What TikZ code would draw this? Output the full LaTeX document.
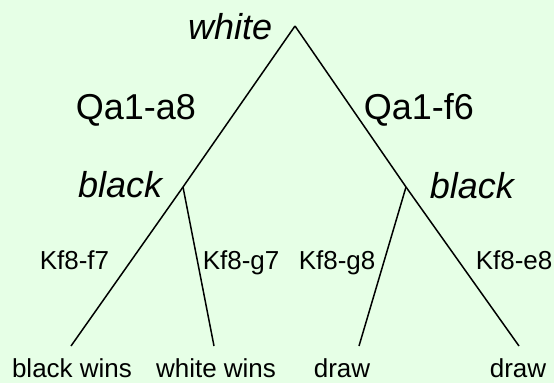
\documentclass[tikz,border=0pt]{standalone}
\usepackage{fontspec}
\setmainfont{Liberation Sans}
\definecolor{bggreen}{RGB}{230,255,230}
\tikzset{
  player/.style={inner sep=0pt,font=\fontsize{36}{40}\selectfont\itshape},
  bigmove/.style={inner sep=0pt,font=\fontsize{36}{40}\selectfont},
  move/.style={inner sep=0pt,font=\fontsize{26}{30}\selectfont},
  result/.style={inner sep=0pt,anchor=base,font=\fontsize{26}{30}\selectfont}
}
\begin{document}
\begin{tikzpicture}[x=1pt,y=-1pt,line width=1.5pt]
      \fill[bggreen] (0,0) rectangle (554,383);
      \useasboundingbox (0,0) rectangle (554,383);
      % tree points
      \coordinate (root) at (295,26);
      \coordinate (bl) at (183,187);
      \coordinate (br) at (406,187);
      \coordinate (e1) at (71,346);
      \coordinate (e2) at (214,346);
      \coordinate (e3) at (359,346);
      \coordinate (e4) at (519,346);
      % branches
      \draw (root) -- (bl) -- (e1);
      \draw (root) -- (br) -- (e4);
      \draw (bl) -- (e2);
      \draw (br) -- (e3);
      % who moves
      \node[player,anchor=base east] (white) at (273,39) {white};
      \node[player,anchor=base east] (blackl) at (163,197) {black};
      \node[player,anchor=base west] (blackr) at (429,198) {black};
      % moves
      \node[bigmove,anchor=base west] (qa8) at (75,119) {Qa1-a8};
      \node[bigmove,anchor=base west] (qf6) at (363,119) {Qa1-f6};
      \node[move,anchor=base west] (f7) at (39,269) {Kf8-f7};
      \node[move,anchor=base west] (g7) at (202,269) {Kf8-g7};
      \node[move,anchor=base west] (g8) at (298,269) {Kf8-g8};
      \node[move,anchor=base west] (e8) at (475,269) {Kf8-e8};
      % results
      \node[result] (r1) at (72,377) {black wins};
      \node[result] (r2) at (216,377) {white wins};
      \node[result] (r3) at (342,377) {draw};
      \node[result] (r4) at (518,377) {draw};
\end{tikzpicture}
\end{document}
